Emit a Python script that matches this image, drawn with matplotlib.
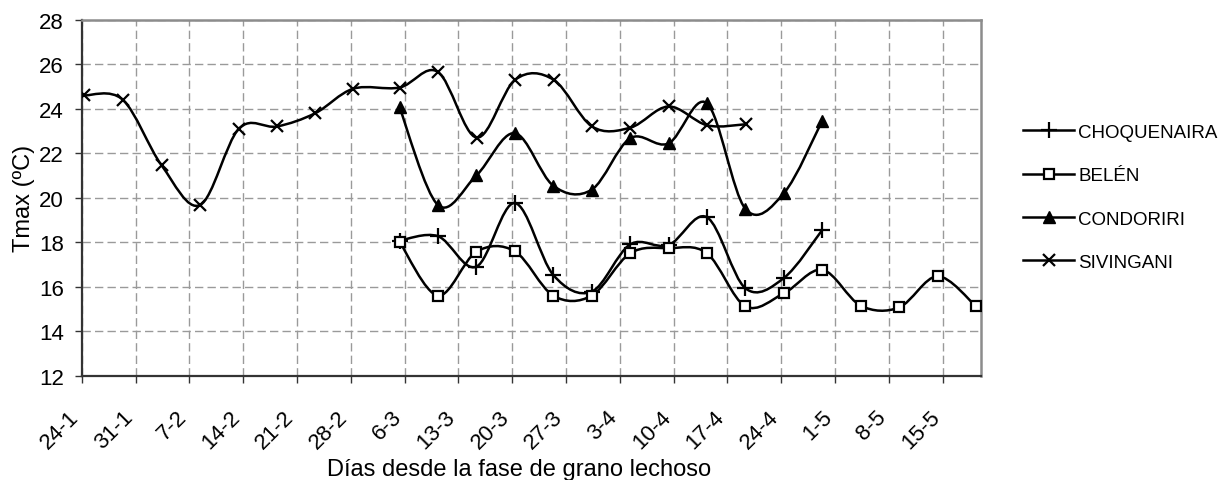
import matplotlib
matplotlib.use("Agg")
import matplotlib.pyplot as plt
import matplotlib.transforms as mtransforms
from matplotlib.path import Path
from matplotlib.patches import PathPatch
from matplotlib.lines import Line2D

plt.rcParams['font.family'] = ['Liberation Sans', 'DejaVu Sans']

# x values are days counted from 24-1
tick_labels = ['24-1', '31-1', '7-2', '14-2', '21-2', '28-2', '6-3', '13-3', '20-3',
               '27-3', '3-4', '10-4', '17-4', '24-4', '1-5', '8-5', '15-5']

sivingani_days = [0.35, 5.35, 10.4, 15.4, 20.45, 25.4, 30.4, 35.35, 41.35,
                  46.35, 51.4, 56.4, 61.4, 66.4, 71.4, 76.35, 81.4, 86.4]
sivingani = [24.6, 24.4, 21.45, 19.67, 23.1, 23.2, 23.8, 24.9, 24.95,
             25.65, 22.7, 25.3, 25.3, 23.2, 23.15, 24.1, 23.25, 23.3]

condoriri_days = [41.35, 46.35, 51.35, 56.35, 61.35, 66.35, 71.35, 76.35,
                  81.35, 86.35, 91.35, 96.35]
condoriri = [24.06, 19.67, 21.0, 22.9, 20.54, 20.36, 22.67, 22.44,
             24.24, 19.5, 20.2, 23.46]

choquenaira_days = [41.35, 46.35, 51.35, 56.35, 61.35, 66.35, 71.35, 76.35,
                    81.35, 86.35, 91.35, 96.35]
choquenaira = [18.07, 18.27, 16.9, 19.76, 16.53, 15.78, 17.9, 17.87,
               19.12, 15.93, 16.39, 18.55]

belen_days = [41.35, 46.35, 51.35, 56.35, 61.35, 66.35, 71.35, 76.35,
              81.35, 86.35, 91.35, 96.35, 101.35, 106.35, 111.35, 116.35]
belen = [18.02, 15.6, 17.57, 17.59, 15.6, 15.6, 17.5, 17.73,
         17.5, 15.12, 15.7, 16.76, 15.15, 15.07, 16.47, 15.12]


def smooth_path(xs, ys):
    # Catmull-Rom style bezier through every point (spreadsheet "smoothed line")
    pts = list(zip(xs, ys))
    n = len(pts)
    verts = [pts[0]]
    codes = [Path.MOVETO]
    for i in range(n - 1):
        p0 = pts[i - 1] if i > 0 else pts[i]
        p1 = pts[i]
        p2 = pts[i + 1]
        p3 = pts[i + 2] if i + 2 < n else pts[i + 1]
        c1 = (p1[0] + (p2[0] - p0[0]) / 6, p1[1] + (p2[1] - p0[1]) / 6)
        c2 = (p2[0] - (p3[0] - p1[0]) / 6, p2[1] - (p3[1] - p1[1]) / 6)
        verts += [c1, c2, p2]
        codes += [Path.CURVE4] * 3
    return Path(verts, codes)


fig = plt.figure(figsize=(12.25, 4.81), dpi=100)
ax = fig.add_axes([0.0667, 0.2168, 0.7341, 0.7402])

series = [
    ('CHOQUENAIRA', choquenaira_days, choquenaira,
     dict(marker='+', markersize=11, markeredgewidth=1.6, color='black')),
    ('BELÉN', belen_days, belen,
     dict(marker='s', markersize=7.5, markeredgewidth=1.6, markerfacecolor='white',
          markeredgecolor='black', color='black')),
    ('CONDORIRI', condoriri_days, condoriri,
     dict(marker='^', markersize=8, color='black')),
    ('SIVINGANI', sivingani_days, sivingani,
     dict(marker='x', markersize=9, markeredgewidth=1.6, color='black')),
]

handles = []
for name, xs, ys, style in series:
    ax.add_patch(PathPatch(smooth_path(xs, ys), facecolor='none', edgecolor='black',
                           linewidth=1.8, zorder=3))
    ax.plot(xs, ys, linestyle='none', zorder=4, **style)
    handles.append(Line2D([], [], linewidth=1.8, **style))

ax.set_xlim(0, 117)
ax.set_ylim(12, 28)
ax.set_xticks(range(0, 113, 7))
ax.set_xticklabels(tick_labels, rotation=45, ha='right', va='center',
                   rotation_mode='anchor', fontsize=16)
ax.set_yticks(range(12, 29, 2))
ax.tick_params(axis='y', labelsize=16, length=5, width=1, pad=8, color='#333333')
ax.tick_params(axis='x', length=5, width=1, pad=22, color='#333333')

# nudge the slanted date labels slightly left of their ticks
shift = mtransforms.ScaledTranslation(-6 / 100, 0, fig.dpi_scale_trans)
for lbl in ax.get_xticklabels():
    lbl.set_transform(lbl.get_transform() + shift)

ax.grid(True, color='#9a9a9a', linestyle=(0, (6, 3)), linewidth=1)
ax.set_axisbelow(True)

for side in ('left', 'bottom'):
    ax.spines[side].set_color('#333333')
    ax.spines[side].set_linewidth(1.6)
for side in ('top', 'right'):
    ax.spines[side].set_color('#8c8c8c')
    ax.spines[side].set_linewidth(1.8)

ax.set_ylabel('Tmax (ºC)', fontsize=17, labelpad=3)
fig.text(0.4237, 0.0104, 'Días desde la fase de grano lechoso', fontsize=17,
         ha='center', va='baseline')

fig.legend(handles, [s[0] for s in series], loc='center left',
           bbox_to_anchor=(0.8349, 0.5877), frameon=False, fontsize=13.5,
           handlelength=2.75, handletextpad=0.2, labelspacing=1.4,
           borderpad=0, borderaxespad=0)

fig.savefig('out.png', dpi=100)
